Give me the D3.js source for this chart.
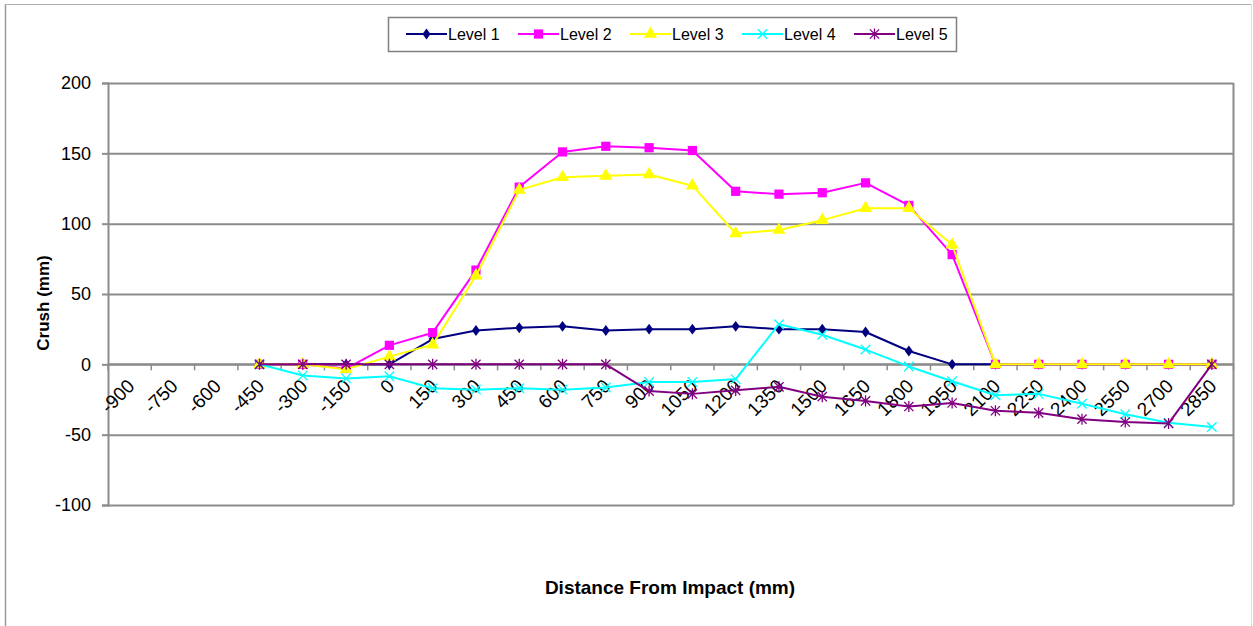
<!DOCTYPE html>
<html>
<head>
<meta charset="utf-8">
<script src="https://cdn.jsdelivr.net/npm/d3@7"></script>
<style>
  html, body { margin: 0; padding: 0; background: #fff; }
  svg { display: block; font-family: Arial, "Liberation Sans", sans-serif; }
</style>
</head>
<body>
<svg id="chart" width="1253" height="626"></svg>
<script>
// ---------- data ----------
const categories = ["-900","-750","-600","-450","-300","-150","0","150","300","450","600","750","900","1050","1200","1350","1500","1650","1800","1950","2100","2250","2400","2550","2700","2850"];
const yTicks = [-100, -50, 0, 50, 100, 150, 200];
const seriesNames = ["Level 1", "Level 2", "Level 3", "Level 4", "Level 5"];
const level1 = [null,null,null, 0, 0, 0, 0, 18, 24, 26, 27, 24, 25, 25, 27, 25, 25, 23, 9.5, 0, 0, 0, 0, 0, 0, 0];
const level2 = [null,null,null, 0, 0, -3, 13.5, 22.5, 67, 126, 151, 155, 154, 152, 123, 121, 122, 129, 113, 78, 0, 0, 0, 0, 0, 0];
const level3 = [null,null,null, 0, 0, -3.5, 5.5, 14, 63, 124, 133, 134, 135, 127, 93, 95.5, 102.5, 111, 111, 85, 0, 0, 0, 0, 0, 0];
const level4 = [null,null,null, 0, -8, -10, -8.5, -17, -18, -17, -18, -16.5, -12.5, -12.5, -10.5, 28.5, 21, 10.5, -1.5, -12, -22, -21, -28, -35.5, -41.5, -44.5];
const level5 = [null,null,null, 0, 0, 0, 0, 0, 0, 0, 0, 0, -19, -21, -18.5, -16, -23, -26, -30, -27.5, -33, -34.5, -39, -41, -42, 0];
const seriesValues = [level1, level2, level3, level4, level5];
const seriesColors = ["#000080", "#FF00FF", "#FFFF00", "#00FFFF", "#800080"];

// ---------- layout ----------
const svg = d3.select("#chart");
const W = 1253, H = 626;
const plot = { left: 108, right: 1233.5, top: 83, bottom: 505 };

const x = d3.scaleBand().domain(categories).range([plot.left, plot.right]).padding(0);
const y = d3.scaleLinear().domain([-100, 200]).range([plot.bottom, plot.top]);
const bw = x.bandwidth();
const cx = c => x(c) + bw / 2;

// outer frame
svg.append("line").attr("x1", 5.5).attr("x2", 5.5).attr("y1", 4).attr("y2", H).attr("stroke", "#9a9a9a").attr("stroke-width", 1.5);
svg.append("line").attr("x1", 5).attr("x2", 1252).attr("y1", 4.5).attr("y2", 4.5).attr("stroke", "#b0b0b0").attr("stroke-width", 1.2);
svg.append("line").attr("x1", 1251.5).attr("x2", 1251.5).attr("y1", 4).attr("y2", H).attr("stroke", "#dcdcdc").attr("stroke-width", 1);

const gridColor = "#8c8c8c";

// gridlines
svg.append("g")
  .attr("transform", `translate(${plot.left},0)`)
  .call(d3.axisLeft(y).tickValues(yTicks).tickSize(-(plot.right - plot.left)).tickFormat(""))
  .call(g => g.select(".domain").remove())
  .call(g => g.selectAll("line").attr("stroke", gridColor).attr("stroke-width", 2));

// plot border right
svg.append("line").attr("x1", plot.right).attr("x2", plot.right).attr("y1", plot.top).attr("y2", plot.bottom)
  .attr("stroke", gridColor).attr("stroke-width", 2);

// y axis
svg.append("g")
  .attr("transform", `translate(${plot.left},0)`)
  .call(d3.axisLeft(y).tickValues(yTicks).tickSize(6).tickPadding(11).tickFormat(d => String(d)))
  .call(g => g.select(".domain").attr("stroke", gridColor).attr("stroke-width", 2))
  .call(g => g.selectAll(".tick line").attr("stroke", gridColor).attr("stroke-width", 2))
  .call(g => g.selectAll(".tick text").attr("font-size", 18).attr("fill", "#000")
      .attr("font-family", "Arial, 'Liberation Sans', sans-serif"));

// x axis (category axis crossing at 0)
const y0 = y(0);
const xAxis = svg.append("g");
xAxis.append("line").attr("x1", plot.left).attr("x2", plot.right).attr("y1", y0).attr("y2", y0)
  .attr("stroke", gridColor).attr("stroke-width", 2);
xAxis.selectAll("line.tk").data(categories.concat(["__end"])).join("line").attr("class", "tk")
  .attr("x1", d => d === "__end" ? plot.right : x(d))
  .attr("x2", d => d === "__end" ? plot.right : x(d))
  .attr("y1", y0).attr("y2", y0 + 6)
  .attr("stroke", gridColor).attr("stroke-width", 1.5);
xAxis.selectAll("text").data(categories).join("text")
  .attr("transform", d => `translate(${cx(d) + 6},${y0 + 23}) rotate(-45)`)
  .attr("text-anchor", "end")
  .attr("font-size", 19)
  .attr("fill", "#000")
  .text(d => d);

// axis titles
svg.append("text")
  .attr("transform", `translate(49,${303}) rotate(-90)`)
  .attr("text-anchor", "middle")
  .attr("font-size", 17).attr("font-weight", "bold")
  .text("Crush (mm)");
svg.append("text")
  .attr("x", 670).attr("y", 594)
  .attr("text-anchor", "middle")
  .attr("font-size", 19).attr("font-weight", "bold")
  .text("Distance From Impact (mm)");

// marker symbols
const starSym = {
  draw(ctx, size) {
    const r = Math.sqrt(size) / 2;
    ctx.moveTo(-r, -r); ctx.lineTo(r, r);
    ctx.moveTo(-r, r); ctx.lineTo(r, -r);
    ctx.moveTo(0, -r * 1.2); ctx.lineTo(0, r * 1.2);
  }
};
const xSym = {
  draw(ctx, size) {
    const r = Math.sqrt(size) / 2;
    ctx.moveTo(-r, -r); ctx.lineTo(r, r);
    ctx.moveTo(-r, r); ctx.lineTo(r, -r);
  }
};
const diamondSym = {
  draw(ctx, size) {
    const r = Math.sqrt(size) / 2;
    ctx.moveTo(0, -r * 1.15); ctx.lineTo(r * 0.85, 0); ctx.lineTo(0, r * 1.15); ctx.lineTo(-r * 0.85, 0); ctx.closePath();
  }
};
const markers = [
  { type: diamondSym, size: 90, fill: true },
  { type: d3.symbolSquare, size: 85, fill: true },
  { type: d3.symbolTriangle, size: 75, fill: true },
  { type: xSym, size: 90, fill: false },
  { type: starSym, size: 85, fill: false }
];

function drawMarker(g, i, px, py) {
  const m = markers[i];
  const p = g.append("path")
    .attr("transform", `translate(${px},${py})`)
    .attr("d", d3.symbol().type(m.type).size(m.size)());
  if (m.fill) p.attr("fill", seriesColors[i]).attr("stroke", "none");
  else p.attr("fill", "none").attr("stroke", seriesColors[i]).attr("stroke-width", 1.3);
}

// series
const line = d3.line()
  .defined(d => d.v !== null)
  .x(d => cx(d.c))
  .y(d => y(d.v));

seriesValues.forEach((vals, i) => {
  const data = categories.map((c, k) => ({ c, v: vals[k] }));
  const g = svg.append("g");
  g.append("path").datum(data)
    .attr("fill", "none")
    .attr("stroke", seriesColors[i])
    .attr("stroke-width", 2)
    .attr("stroke-linejoin", "round")
    .attr("d", line);
  data.filter(d => d.v !== null).forEach(d => drawMarker(g, i, cx(d.c), y(d.v)));
});

// legend
const legend = svg.append("g");
legend.append("rect").attr("x", 388.5).attr("y", 17.5).attr("width", 568).attr("height", 34)
  .attr("fill", "#fff").attr("stroke", "#808080").attr("stroke-width", 1.5);
const legX = d3.scalePoint().domain(seriesNames).range([406, 854]);
seriesNames.forEach((name, i) => {
  const lx = legX(name), ly = 34;
  legend.append("line").attr("x1", lx).attr("x2", lx + 41).attr("y1", ly).attr("y2", ly)
    .attr("stroke", seriesColors[i]).attr("stroke-width", 2);
  drawMarker(legend, i, lx + 20.5, ly);
  legend.append("text").attr("x", lx + 42).attr("y", ly + 6)
    .attr("font-size", 16).attr("fill", "#000").text(name);
});
</script>
</body>
</html>
